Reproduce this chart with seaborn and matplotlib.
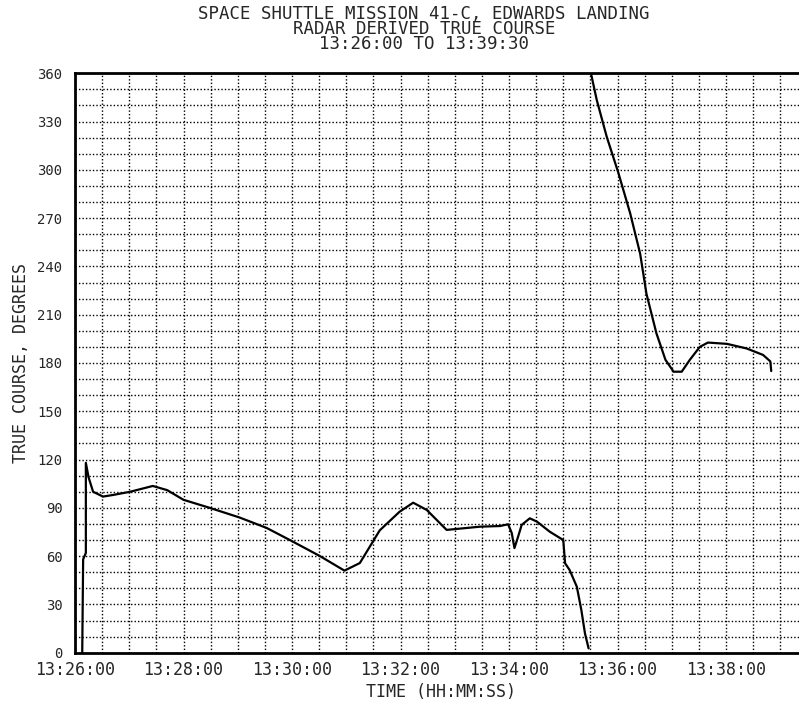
import numpy as np
import pandas as pd
import matplotlib
matplotlib.use('Agg')
import matplotlib.pyplot as plt
from matplotlib.ticker import MultipleLocator
import seaborn as sns

# radar track, split where the course wraps from 0 back to 360
seg1_time = ['13:26:08', '13:26:09', '13:26:12', '13:26:12', '13:26:15', '13:26:20',
             '13:26:31', '13:26:42', '13:27:01', '13:27:26', '13:27:42', '13:28:00',
             '13:28:29', '13:29:02', '13:29:32', '13:30:01', '13:30:31', '13:30:58',
             '13:31:15', '13:31:37', '13:31:59', '13:32:14', '13:32:29', '13:32:51',
             '13:33:28', '13:33:50', '13:33:59', '13:34:03', '13:34:06', '13:34:10',
             '13:34:14', '13:34:23', '13:34:31', '13:34:45', '13:35:00', '13:35:02',
             '13:35:07', '13:35:15', '13:35:20', '13:35:24', '13:35:28']
seg1_course = [0, 58, 62, 118, 109, 100,
               97, 98, 100, 103.6, 101, 95,
               90, 84, 77.5, 69, 60, 51,
               55.7, 76, 87.6, 93.2, 88.7, 76.3,
               78.3, 78.7, 79.8, 74.4, 65, 72,
               79.4, 83.5, 81.4, 75.2, 70, 55.6,
               51.4, 41, 26.5, 12, 2.7]

seg2_time = ['13:35:31', '13:35:37', '13:35:48', '13:36:01', '13:36:14', '13:36:25',
             '13:36:32', '13:36:43', '13:36:53', '13:37:02', '13:37:11', '13:37:20',
             '13:37:31', '13:37:40', '13:38:01', '13:38:23', '13:38:41', '13:38:49',
             '13:38:50']
seg2_course = [359, 343.5, 320.7, 298, 273, 248,
               223, 198.5, 182, 174.6, 174.6, 182,
               190, 192.7, 191.9, 189, 185, 181,
               175]

x_ticks = ['13:26:00', '13:28:00', '13:30:00', '13:32:00', '13:34:00', '13:36:00', '13:38:00']
y_ticks = [0, 30, 60, 90, 120, 150, 180, 210, 240, 270, 300, 330, 360]

title_lines = ['SPACE SHUTTLE MISSION 41-C, EDWARDS LANDING',
               'RADAR DERIVED TRUE COURSE',
               '13:26:00 TO 13:39:30']

t0 = pd.to_timedelta('13:26:00')


def secs(ts):
    return (pd.to_timedelta(ts) - t0).total_seconds()


df = pd.concat([
    pd.DataFrame({'t': [secs(s) for s in seg1_time], 'course': seg1_course, 'seg': 1}),
    pd.DataFrame({'t': [secs(s) for s in seg2_time], 'course': seg2_course, 'seg': 2}),
])

sns.set_style('white')
plt.rcParams['font.family'] = ['DejaVu Sans Mono', 'DejaVu Sans']

fig = plt.figure(figsize=(7.99, 7.03), dpi=100)
ax = fig.add_axes([75 / 799, 50.3 / 703, 732.4 / 799, 579.4 / 703])

sns.lineplot(data=df, x='t', y='course', units='seg', estimator=None, sort=False,
             color='black', lw=1.6, ax=ax, legend=False)

ax.set_xlim(0, secs('13:39:30'))
ax.set_ylim(0, 360)
ax.set_xticks([secs(s) for s in x_ticks])
ax.set_xticklabels(x_ticks)
ax.xaxis.set_minor_locator(MultipleLocator(30))
ax.set_yticks(y_ticks)
ax.yaxis.set_minor_locator(MultipleLocator(10))

ax.grid(True, which='both', color='black', linestyle=(0, (1, 1.5)), lw=1.0)
ax.tick_params(which='major', direction='in', length=9, width=1.8, color='black')
ax.tick_params(which='minor', length=0)
ax.tick_params(axis='x', labelsize=12, pad=6)
ax.tick_params(axis='y', labelsize=10, pad=9)

for side in ['left', 'bottom', 'top']:
    ax.spines[side].set_linewidth(2.0)
    ax.spines[side].set_color('black')
ax.spines['right'].set_visible(False)

ax.set_xlabel('TIME (HH:MM:SS)', fontsize=12, labelpad=3)
ax.set_ylabel('TRUE COURSE, DEGREES', fontsize=12, labelpad=5)

# three-line title as one block, lines close together like the plotter output
fig.text(424 / 799, 1 - 5 / 703, '\n'.join(title_lines),
         ha='center', va='top', fontsize=12.5, linespacing=0.8,
         multialignment='center')

fig.savefig('out.png', dpi=100)
